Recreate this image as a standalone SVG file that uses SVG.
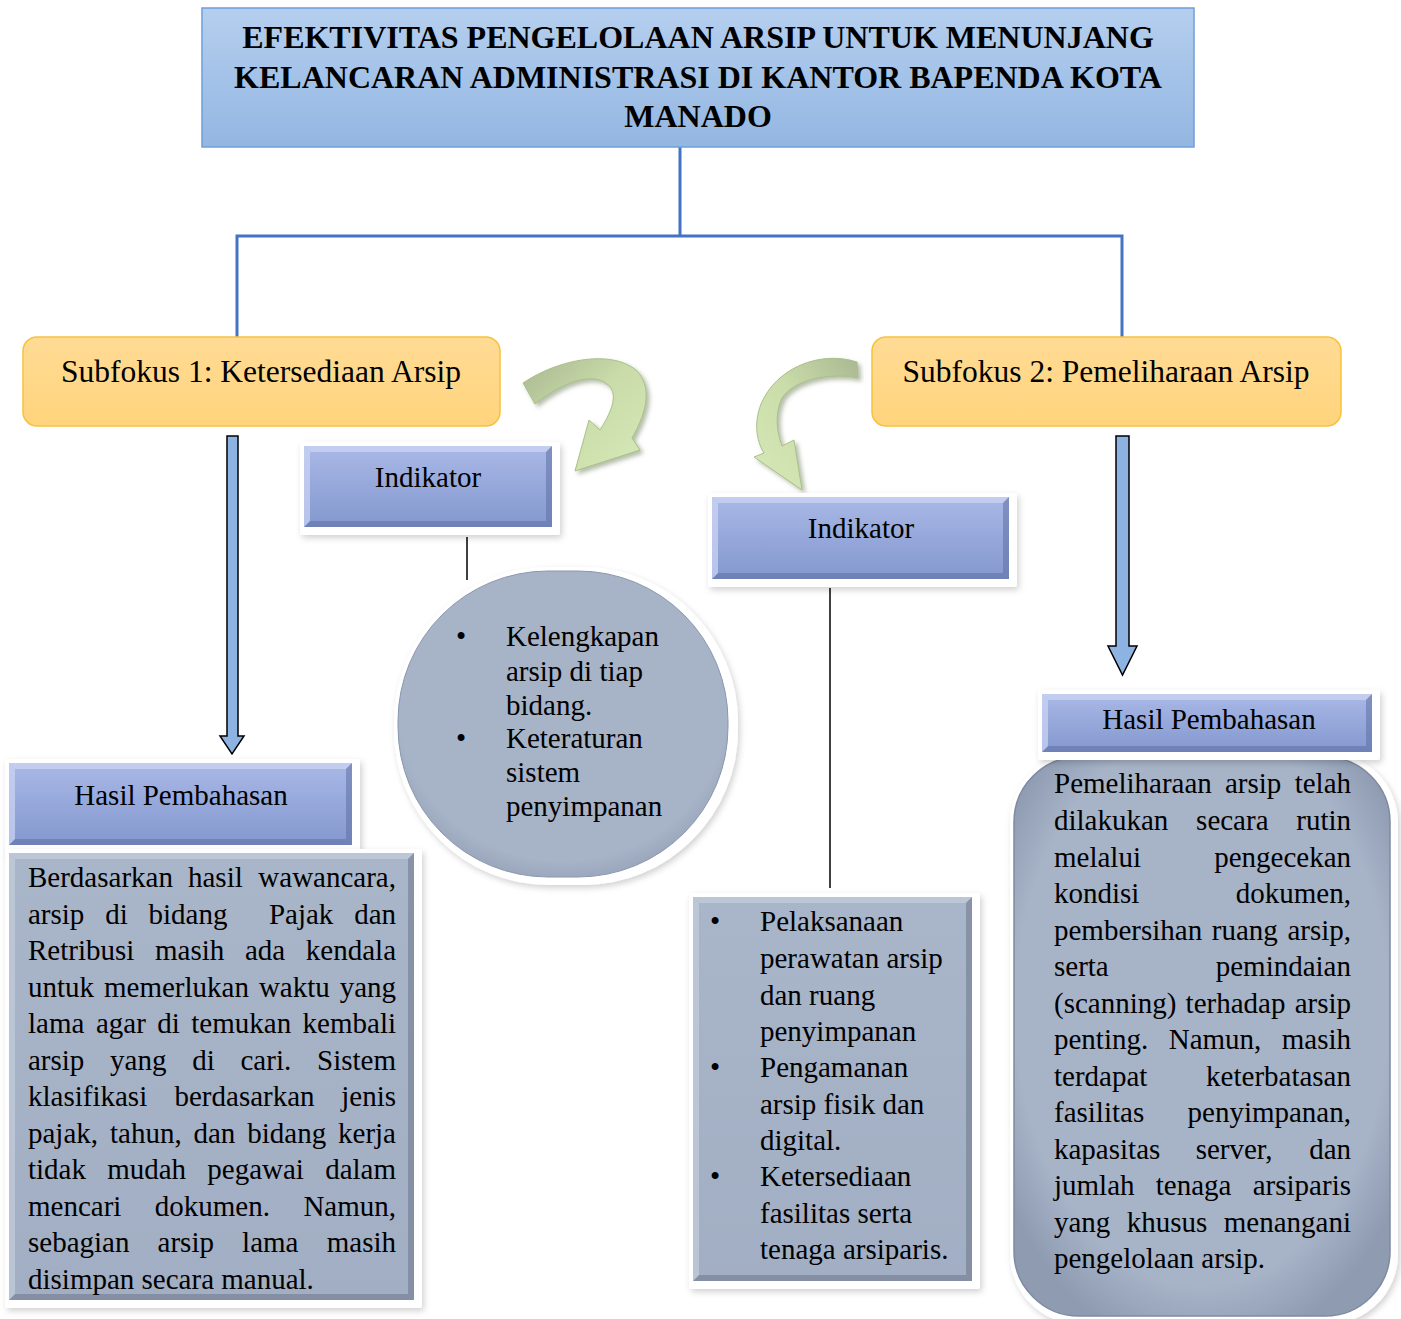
<svg xmlns="http://www.w3.org/2000/svg" width="1401" height="1319" viewBox="0 0 1401 1319">
<style>
.t{font-family:"Liberation Serif","Times New Roman",serif;fill:#000;}
.b29{font-size:29px;}
.c{text-anchor:middle;}
.e{text-anchor:end;}
.conn{fill:none;stroke:#4472c4;stroke-width:3;}
.thin{stroke:#000;stroke-width:1.5;fill:none;}
.down{fill:#8db3e2;stroke:#000;stroke-width:1.5;}
.glow{fill:#fff;filter:url(#sh);}
.bl{fill:#cdd6f4;opacity:.7;}
.bd{fill:#5f6fa3;opacity:.55;}
.gl{fill:#c3cddc;opacity:.7;}
.gd{fill:#6c778b;opacity:.55;}
</style>
<defs>
<linearGradient id="gTitle" x1="0" y1="0" x2="0" y2="1"><stop offset="0" stop-color="#b5cfee"/><stop offset="1" stop-color="#93b6e2"/></linearGradient>
<linearGradient id="gOr" x1="0" y1="0" x2="0" y2="1"><stop offset="0" stop-color="#ffdb95"/><stop offset="1" stop-color="#ffd47c"/></linearGradient>
<linearGradient id="gBl" x1="0" y1="0" x2="0" y2="1"><stop offset="0" stop-color="#a9b8e6"/><stop offset="1" stop-color="#8398cf"/></linearGradient>
<linearGradient id="gGr" x1="0" y1="0" x2="0" y2="1"><stop offset="0" stop-color="#a9b5c8"/><stop offset="1" stop-color="#a2aec3"/></linearGradient>
<radialGradient id="gRd" cx="0.5" cy="0.45" r="0.62"><stop offset="0.8" stop-color="#a7b3c7"/><stop offset="1" stop-color="#8e9bb1"/></radialGradient>
<linearGradient id="gGreenL" x1="0" y1="0" x2="1" y2="1"><stop offset="0" stop-color="#a9b791"/><stop offset="0.45" stop-color="#c8dba8"/><stop offset="1" stop-color="#d6e9b8"/></linearGradient>
<linearGradient id="gGreenR" x1="1" y1="0" x2="0" y2="1"><stop offset="0" stop-color="#aab893"/><stop offset="0.45" stop-color="#cadca9"/><stop offset="1" stop-color="#d6e9b8"/></linearGradient>
<filter id="sh" x="-10%" y="-10%" width="130%" height="130%"><feDropShadow dx="2" dy="3" stdDeviation="3" flood-color="#000" flood-opacity="0.18"/></filter>
<filter id="ash" x="-20%" y="-20%" width="150%" height="150%"><feDropShadow dx="3" dy="3" stdDeviation="2" flood-color="#6b7d55" flood-opacity="0.5"/></filter>
</defs>
<rect width="1401" height="1319" fill="#fff"/>

<g id="connectors">
<path class="conn" d="M680,147 V236 M237,337 V236 H1122 V337"/>
<path class="down" d="M227,436 H238 V736 H244 L232,754 L220,736 H227 Z"/>
<path class="down" d="M1116,436 H1129 V646 H1137 L1122.5,675 L1108,646 H1116 Z"/>
<path class="thin" d="M467,537 V580"/>
<path class="thin" d="M830,588 V888"/>
<g filter="url(#ash)">
<path fill="url(#gGreenL)" stroke="#a9c088" stroke-width="1" d="M523,383 C560,358 612,350 636,370 C652,386 648,410 632,438 L640,450 L575,471 L589,420 L600,430 C614,408 618,392 607,384 C592,372 562,382 535,404 Z"/>
<path fill="url(#gGreenR)" stroke="#a9c088" stroke-width="1" d="M857,362 C820,350 776,368 761,404 C754,422 756,440 764,453 L754,457 L802,490 L794,440 L782,446 C776,430 775,413 782,398 C794,380 828,372 858,378 Z"/>
</g>
</g>

<g id="title">
<rect x="202" y="8" width="992" height="139" fill="url(#gTitle)" stroke="#6f9fd7" stroke-width="1.5"/>
<text class="t c" x="698" y="48" font-size="32" font-weight="bold">EFEKTIVITAS PENGELOLAAN ARSIP UNTUK MENUNJANG</text>
<text class="t c" x="698" y="88" font-size="32" font-weight="bold">KELANCARAN ADMINISTRASI DI KANTOR BAPENDA KOTA</text>
<text class="t c" x="698" y="127" font-size="32" font-weight="bold">MANADO</text>
</g>

<g id="subfokus1">
<rect x="23" y="337" width="477" height="89" rx="14" fill="url(#gOr)" stroke="#f7c23c" stroke-width="1.5"/>
<text class="t c" x="261" y="382" font-size="31.5">Subfokus 1: Ketersediaan Arsip</text>
</g>

<g id="subfokus2">
<rect x="872" y="337" width="469" height="89" rx="14" fill="url(#gOr)" stroke="#f7c23c" stroke-width="1.5"/>
<text class="t c" x="1106" y="382" font-size="31.5">Subfokus 2: Pemeliharaan Arsip</text>
</g>

<g id="indikator1">
<rect class="glow" x="300" y="442" width="260" height="93" rx="3"/>
<rect x="304" y="446" width="248" height="81" fill="url(#gBl)"/>
<polygon class="bl" points="304,446 552,446 546,452 310,452"/>
<polygon class="bd" points="304,527 552,527 546,521 310,521"/>
<polygon class="bd" points="552,446 552,527 546,521 546,452"/>
<polygon class="bl" points="304,446 304,527 310,521 310,452"/>
<text class="t b29 c" x="428" y="487">Indikator</text>
</g>

<g id="indikator2">
<rect class="glow" x="708" y="493" width="309" height="94" rx="3"/>
<rect x="712" y="497" width="297" height="82" fill="url(#gBl)"/>
<polygon class="bl" points="712,497 1009,497 1003,503 718,503"/>
<polygon class="bd" points="712,579 1009,579 1003,573 718,573"/>
<polygon class="bd" points="1009,497 1009,579 1003,573 1003,503"/>
<polygon class="bl" points="712,497 712,579 718,573 718,503"/>
<text class="t b29 c" x="861" y="538">Indikator</text>
</g>

<g id="indikator1-list">
<rect x="394" y="567" width="344" height="318" rx="155" fill="#fff" filter="url(#sh)"/>
<rect x="398" y="571" width="330" height="306" rx="150" fill="url(#gRd)" stroke="#8a97ad" stroke-width="1"/>
<g class="t b29">
<text x="456" y="646">•</text><text x="506" y="646">Kelengkapan</text>
<text x="506" y="681">arsip di tiap</text>
<text x="506" y="715">bidang.</text>
<text x="456" y="748">•</text><text x="506" y="748">Keteraturan</text>
<text x="506" y="782">sistem</text>
<text x="506" y="816">penyimpanan</text>
</g>
</g>

<g id="indikator2-list">
<rect class="glow" x="689" y="893" width="291" height="396" rx="3"/>
<rect x="693" y="897" width="279" height="384" fill="url(#gGr)"/>
<polygon class="gl" points="693,897 972,897 966,903 699,903"/>
<polygon class="gd" points="693,1281 972,1281 966,1275 699,1275"/>
<polygon class="gd" points="972,897 972,1281 966,1275 966,903"/>
<polygon class="gl" points="693,897 693,1281 699,1275 699,903"/>
<g class="t b29">
<text x="710" y="931">•</text><text x="760" y="931">Pelaksanaan</text>
<text x="760" y="968">perawatan arsip</text>
<text x="760" y="1005">dan ruang</text>
<text x="760" y="1041">penyimpanan</text>
<text x="710" y="1077">•</text><text x="760" y="1077">Pengamanan</text>
<text x="760" y="1114">arsip fisik dan</text>
<text x="760" y="1150">digital.</text>
<text x="710" y="1186">•</text><text x="760" y="1186">Ketersediaan</text>
<text x="760" y="1223">fasilitas serta</text>
<text x="760" y="1259">tenaga arsiparis.</text>
</g>
</g>

<g id="hasil1-header">
<rect class="glow" x="5" y="759" width="355" height="94" rx="3"/>
<rect x="9" y="763" width="343" height="82" fill="url(#gBl)"/>
<polygon class="bl" points="9,763 352,763 346,769 15,769"/>
<polygon class="bd" points="9,845 352,845 346,839 15,839"/>
<polygon class="bd" points="352,763 352,845 346,839 346,769"/>
<polygon class="bl" points="9,763 9,845 15,839 15,769"/>
<text class="t b29 c" x="181" y="805">Hasil Pembahasan</text>
</g>

<g id="hasil1-text">
<rect class="glow" x="5" y="849" width="417" height="459" rx="3"/>
<rect x="9" y="853" width="405" height="447" fill="url(#gGr)"/>
<polygon class="gl" points="9,853 414,853 408,859 15,859"/>
<polygon class="gd" points="9,1300 414,1300 408,1294 15,1294"/>
<polygon class="gd" points="414,853 414,1300 408,1294 408,859"/>
<polygon class="gl" points="9,853 9,1300 15,1294 15,859"/>
<g class="t b29">
<text x="28" y="887">Berdasarkan</text><text x="188" y="887">hasil</text><text class="e" x="396" y="887">wawancara,</text>
<text x="28" y="923.5">arsip</text><text x="105.2" y="923.5">di</text><text x="148.5" y="923.5">bidang</text><text x="268.9" y="923.5">Pajak</text><text class="e" x="396" y="923.5">dan</text>
<text x="28" y="960">Retribusi</text><text x="155" y="960">masih</text><text x="244.9" y="960">ada</text><text class="e" x="396" y="960">kendala</text>
<text x="28" y="996.5">untuk</text><text x="104" y="996.5">memerlukan</text><text x="258.9" y="996.5">waktu</text><text class="e" x="396" y="996.5">yang</text>
<text x="28" y="1033">lama</text><text x="95.9" y="1033">agar</text><text x="157.2" y="1033">di</text><text x="191.3" y="1033">temukan</text><text class="e" x="396" y="1033">kembali</text>
<text x="28" y="1069.5">arsip</text><text x="110.1" y="1069.5">yang</text><text x="192.2" y="1069.5">di</text><text x="240.5" y="1069.5">cari.</text><text class="e" x="396" y="1069.5">Sistem</text>
<text x="28" y="1106">klasifikasi</text><text x="174.5" y="1106">berdasarkan</text><text class="e" x="396" y="1106">jenis</text>
<text x="28" y="1142.5">pajak,</text><text x="110" y="1142.5">tahun,</text><text x="193.5" y="1142.5">dan</text><text x="247.3" y="1142.5">bidang</text><text class="e" x="396" y="1142.5">kerja</text>
<text x="28" y="1179">tidak</text><text x="107.2" y="1179">mudah</text><text x="207.3" y="1179">pegawai</text><text class="e" x="396" y="1179">dalam</text>
<text x="28" y="1215.5">mencari</text><text x="154.8" y="1215.5">dokumen.</text><text class="e" x="396" y="1215.5">Namun,</text>
<text x="28" y="1252">sebagian</text><text x="157.6" y="1252">arsip</text><text x="242.1" y="1252">lama</text><text class="e" x="396" y="1252">masih</text>
<text x="28" y="1288.5">disimpan secara manual.</text>
</g>
</g>

<g id="hasil2-text">
<rect x="1010" y="753" width="388" height="571" rx="70" fill="#fff" filter="url(#sh)"/>
<rect x="1014" y="757" width="376" height="559" rx="65" fill="url(#gRd)" stroke="#7d8aa1" stroke-width="1.5"/>
<g class="t b29">
<text x="1054" y="793">Pemeliharaan</text><text x="1225" y="793">arsip</text><text class="e" x="1351" y="793">telah</text>
<text x="1054" y="830">dilakukan</text><text x="1196.1" y="830">secara</text><text class="e" x="1351" y="830">rutin</text>
<text x="1054" y="866.5">melalui</text><text class="e" x="1351" y="866.5">pengecekan</text>
<text x="1054" y="903">kondisi</text><text class="e" x="1351" y="903">dokumen,</text>
<text x="1054" y="939.5">pembersihan</text><text x="1211.8" y="939.5">ruang</text><text class="e" x="1351" y="939.5">arsip,</text>
<text x="1054" y="976">serta</text><text class="e" x="1351" y="976">pemindaian</text>
<text x="1054" y="1012.5">(scanning)</text><text x="1185.6" y="1012.5">terhadap</text><text class="e" x="1351" y="1012.5">arsip</text>
<text x="1054" y="1049">penting.</text><text x="1168.7" y="1049">Namun,</text><text class="e" x="1351" y="1049">masih</text>
<text x="1054" y="1085.5">terdapat</text><text class="e" x="1351" y="1085.5">keterbatasan</text>
<text x="1054" y="1122">fasilitas</text><text class="e" x="1351" y="1122">penyimpanan,</text>
<text x="1054" y="1158.5">kapasitas</text><text x="1195.7" y="1158.5">server,</text><text class="e" x="1351" y="1158.5">dan</text>
<text x="1054" y="1195">jumlah</text><text x="1155.8" y="1195">tenaga</text><text class="e" x="1351" y="1195">arsiparis</text>
<text x="1054" y="1231.5">yang</text><text x="1126.8" y="1231.5">khusus</text><text class="e" x="1351" y="1231.5">menangani</text>
<text x="1054" y="1268">pengelolaan arsip.</text>
</g>
</g>

<g id="hasil2-header">
<rect class="glow" x="1038" y="690" width="342" height="70" rx="3"/>
<rect x="1042" y="694" width="330" height="58" fill="url(#gBl)"/>
<polygon class="bl" points="1042,694 1372,694 1366,700 1048,700"/>
<polygon class="bd" points="1042,752 1372,752 1366,746 1048,746"/>
<polygon class="bd" points="1372,694 1372,752 1366,746 1366,700"/>
<polygon class="bl" points="1042,694 1042,752 1048,746 1048,700"/>
<text class="t b29 c" x="1209" y="729">Hasil Pembahasan</text>
</g>
</svg>
